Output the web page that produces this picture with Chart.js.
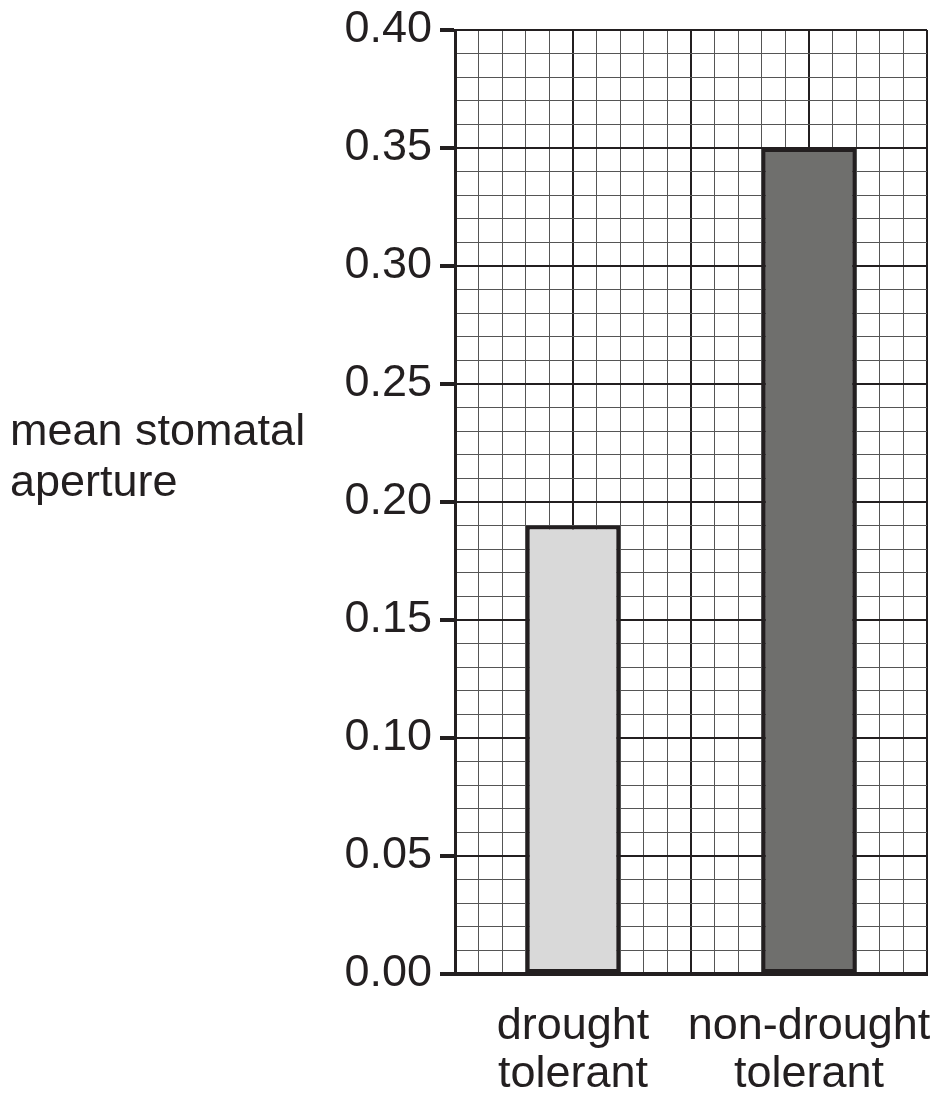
<!DOCTYPE html>
<html>
<head>
<meta charset="utf-8">
<script src="https://cdn.jsdelivr.net/npm/chart.js@4.4.0/dist/chart.umd.min.js"></script>
<style>
  html, body { margin: 0; padding: 0; background: #ffffff; }
  #wrap { width: 947px; height: 1108px; }
</style>
</head>
<body>
<div id="wrap"><canvas id="apertureChart" width="947" height="1108"></canvas></div>
<script>
const categories = [["drought", "tolerant"], ["non-drought", "tolerant"]];
const apertureValues = [0.19, 0.35];
const barColours = ["#d9d9d9", "#6f6f6d"];
const yAxisTitle = ["mean stomatal", "aperture"];
const yMin = 0, yMax = 0.40, yMinorStep = 0.01;
const gridColumns = 20;

const ink = "#231f20";
const fontFamily = '"Liberation Sans", Arial, Helvetica, sans-serif';
const fontSize = 45;

function isMajorY(v) {
  return Math.round(v * 100) % 5 === 0;
}

// y-axis title sits horizontally to the left of the axis
const sideTitle = {
  id: "sideTitle",
  afterDraw(chart) {
    const ctx = chart.ctx;
    ctx.save();
    ctx.font = fontSize + "px " + fontFamily;
    ctx.fillStyle = ink;
    ctx.textAlign = "left";
    ctx.textBaseline = "alphabetic";
    ctx.fillText(yAxisTitle[0], 10, 445);
    ctx.fillText(yAxisTitle[1], 10, 496);
    ctx.restore();
  }
};

const apertureChart = document.getElementById("apertureChart").getContext("2d");
new Chart(apertureChart, {
  type: "bar",
  data: {
    labels: categories,
    datasets: [
      {
        label: "mean stomatal aperture",
        data: apertureValues,
        backgroundColor: barColours,
        borderColor: ink,
        borderWidth: 4,
        borderSkipped: false,
        barPercentage: 0.4,
        categoryPercentage: 1.0,
        xAxisID: "x",
        yAxisID: "y",
      },
    ],
  },
  options: {
    responsive: false,
    animation: false,
    devicePixelRatio: 1,
    layout: { padding: { top: 30, right: 20, bottom: 0, left: 0 } },
    plugins: {
      legend: { display: false },
      tooltip: { enabled: false },
    },
    scales: {
      x: {
        type: "category",
        position: "bottom",
        offset: true,
        grid: { display: false, drawTicks: false },
        border: { display: true, color: ink, width: 4 },
        ticks: {
          color: ink,
          padding: 29,
          maxRotation: 0,
          autoSkip: false,
          font: { family: fontFamily, size: fontSize, lineHeight: 1.067 },
        },
        afterFit(scale) {
          scale.height = 134;
          scale.paddingLeft = 0;
          scale.paddingRight = 0;
        },
      },
      // hidden axis that only carries the vertical graph-paper lines
      x2: {
        type: "linear",
        position: "top",
        min: 0,
        max: gridColumns,
        offset: false,
        ticks: { display: false, stepSize: 1 },
        border: { display: false },
        grid: {
          offset: false,
          drawTicks: false,
          color: (c) => (c.tick && c.tick.value % 5 === 0 ? ink : "#555555"),
          lineWidth: (c) => (c.tick && c.tick.value % 5 === 0 ? 2 : 1),
        },
        afterFit(scale) { scale.height = 0; },
      },
      y: {
        type: "linear",
        min: yMin,
        max: yMax,
        border: { display: true, color: ink, width: 3 },
        grid: {
          tickLength: 15,
          color: (c) => (c.tick && isMajorY(c.tick.value) ? ink : "#555555"),
          lineWidth: (c) => (c.tick && isMajorY(c.tick.value) ? 2 : 1),
          tickColor: (c) => (c.tick && isMajorY(c.tick.value) ? ink : "rgba(0,0,0,0)"),
          tickWidth: 4,
        },
        ticks: {
          stepSize: yMinorStep,
          autoSkip: false,
          color: ink,
          padding: 8,
          font: { family: fontFamily, size: fontSize },
          callback: (v) => (isMajorY(v) ? Number(v).toFixed(2) : ""),
        },
        afterFit(scale) {
          scale.width = 455;
          scale.paddingTop = 0;
          scale.paddingBottom = 0;
        },
      },
    },
  },
  plugins: [sideTitle],
});
</script>
</body>
</html>
